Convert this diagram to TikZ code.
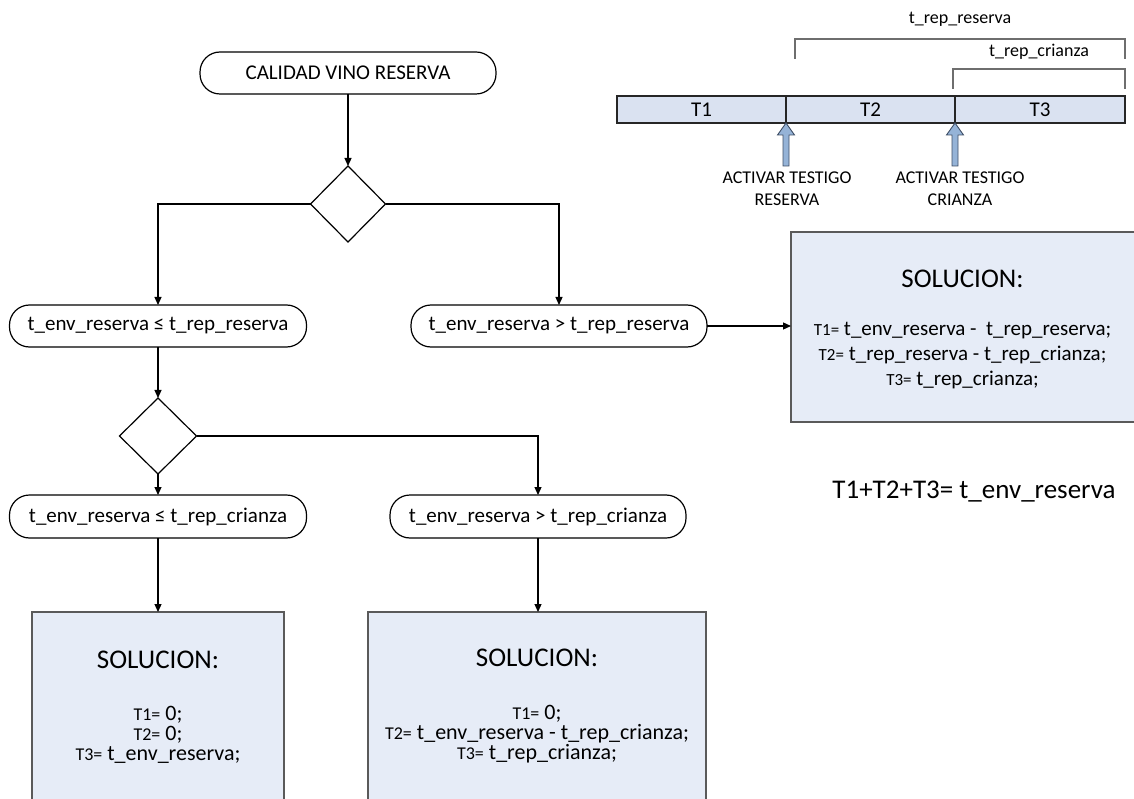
\documentclass[tikz,border=0pt]{standalone}
\usepackage{fontspec}
\setmainfont{Carlito}
\usetikzlibrary{shapes.geometric,arrows.meta,calc}

\definecolor{boxfill}{HTML}{E6ECF7}
\definecolor{barfill}{HTML}{DAE2F1}
\definecolor{markfill}{HTML}{95B3D7}
\definecolor{markedge}{HTML}{3F4F66}
\definecolor{edgegray}{HTML}{5A5A5A}
\definecolor{brackgray}{HTML}{6E6E6E}

% smaller size for the "Tn=" prefixes inside the solution boxes
\newcommand\tpre[1]{{\fontsize{17}{20}\selectfont #1}}
\newcommand\tpreb[1]{{\fontsize{18}{20}\selectfont #1}}

\begin{document}
\begin{tikzpicture}[x=1pt,y=-1pt,
  every node/.style={inner sep=0pt,outer sep=0pt},
  flow/.style={-{Triangle[length=8pt,width=7pt]},line width=1.2pt},
  term/.style={draw,line width=1.2pt,rounded corners=20pt,
    minimum width=#1,minimum height=42pt,font=\fontsize{21}{24}\selectfont},
  decision/.style={draw,diamond,line width=1.2pt},
  solbox/.style={draw=edgegray,fill=boxfill,line width=1.4pt},
  headtxt/.style={font=\fontsize{27}{31}\selectfont},
  eqtxt/.style={font=\fontsize{21}{25}\selectfont,align=center},
  eqtxtb/.style={font=\fontsize{22}{20}\selectfont,align=center},
  seg/.style={draw=black!85,fill=barfill,line width=1.2pt,minimum height=27pt,font=\fontsize{21}{24}\selectfont},
  bracket/.style={draw=brackgray,line width=1.1pt},
  marker/.style={draw=markedge,fill=markfill,line width=0.9pt,line join=miter},
  smalltxt/.style={font=\fontsize{18}{21}\selectfont},
  notetxt/.style={font=\fontsize{18}{22}\selectfont,align=center}
]
\useasboundingbox (0,0) rectangle (1134,799);
\clip (0,0) rectangle (1134,799);

% ---------- flowchart ----------
\node[term=296pt] (start) at (348,73) {CALIDAD VINO RESERVA};
\node[decision,minimum width=75pt,minimum height=76pt] (d1) at (348,204) {};

\node[term=297pt] (n2) at (158,326) {t\_env\_reserva ≤ t\_rep\_reserva};
\node[term=296pt] (n3) at (559,326) {t\_env\_reserva > t\_rep\_reserva};

\node[decision,minimum width=77pt,minimum height=76pt] (d2) at (158,436) {};

\node[term=297pt,minimum height=43pt] (n4) at (158,516.5) {t\_env\_reserva ≤ t\_rep\_crianza};
\node[term=296pt,minimum height=43pt] (n5) at (538,516.5) {t\_env\_reserva > t\_rep\_crianza};

% solution boxes
\node[solbox,anchor=north west,minimum width=345pt,minimum height=190pt] (solR) at (791,232) {};
\node[solbox,anchor=north,minimum width=252pt,minimum height=200pt] (solL) at (158,612) {};
\node[solbox,anchor=north,minimum width=338pt,minimum height=200pt] (solM) at (537,612) {};

% connectors
\draw[flow] (start) -- (d1);
\draw[flow] (d1.west) -| (n2.north);
\draw[flow] (d1.east) -| (n3.north);
\draw[flow] (n3.east) -- (n3.east -| solR.west);
\draw[flow] (n2) -- (d2);
\draw[flow] (d2.east) -| (n5.north);
\draw[flow] (d2) -- (n4);
\draw[flow] (n4) -- (solL);
\draw[flow] (n5.south) -- (n5.south |- solM.north);

% solution texts
\node[headtxt] (hR) at (962.5,279) {SOLUCION:};
\node[eqtxt] (rR) at (962.5,356) {\tpre{T1=} t\_env\_reserva -\ \ t\_rep\_reserva;\\
  \tpre{T2=} t\_rep\_reserva - t\_rep\_crianza;\\
  \tpre{T3=} t\_rep\_crianza;};

\node[headtxt] (hL) at (158,660) {SOLUCION:};
\node[eqtxtb] (rL) at (158,735) {\tpreb{T1=} 0;\\ \tpreb{T2=} 0;\\ \tpreb{T3=} t\_env\_reserva;};

\node[headtxt] (hM) at (537,658) {SOLUCION:};
\node[eqtxtb] (rM) at (537,734) {\tpreb{T1=} 0;\\
  \tpreb{T2=} t\_env\_reserva - t\_rep\_crianza;\\
  \tpreb{T3=} t\_rep\_crianza;};

\node[font=\fontsize{27}{31}\selectfont] (sum) at (974,492) {T1+T2+T3= t\_env\_reserva};

% ---------- time line ----------
\node[seg,anchor=north west,minimum width=169pt] (t1) at (617,96) {T1};
\node[seg,anchor=north west,minimum width=169pt] (t2) at (786,96) {T2};
\node[seg,anchor=north west,minimum width=170pt] (t3) at (955,96) {T3};

% activation markers (block arrows pointing up to the bar)
\foreach \nm/\xx in {mres/786,mcri/955}{
  \coordinate (\nm) at (\xx,166);
  \draw[marker] (\xx-3,166) -- (\xx-3,135) -- (\xx-8.5,135) -- (\xx,123)
     -- (\xx+8.5,135) -- (\xx+3,135) -- (\xx+3,166) -- cycle;
}
\node[notetxt] (lres) at (787,189) {ACTIVAR TESTIGO\\RESERVA};
\node[notetxt] (lcri) at (960,189) {ACTIVAR TESTIGO\\CRIANZA};

% span brackets
\coordinate (bres) at (795,59);
\coordinate (bcri) at (953,89);
\draw[bracket] (bres) -- (795,39) -- (1125,39) -- (1125,59);
\draw[bracket] (bcri) -- (953,69) -- (1125,69) -- (1125,89);
\node[smalltxt] (kres) at (960,19) {t\_rep\_reserva};
\node[smalltxt] (kcri) at (1039,52) {t\_rep\_crianza};
\end{tikzpicture}
\end{document}
